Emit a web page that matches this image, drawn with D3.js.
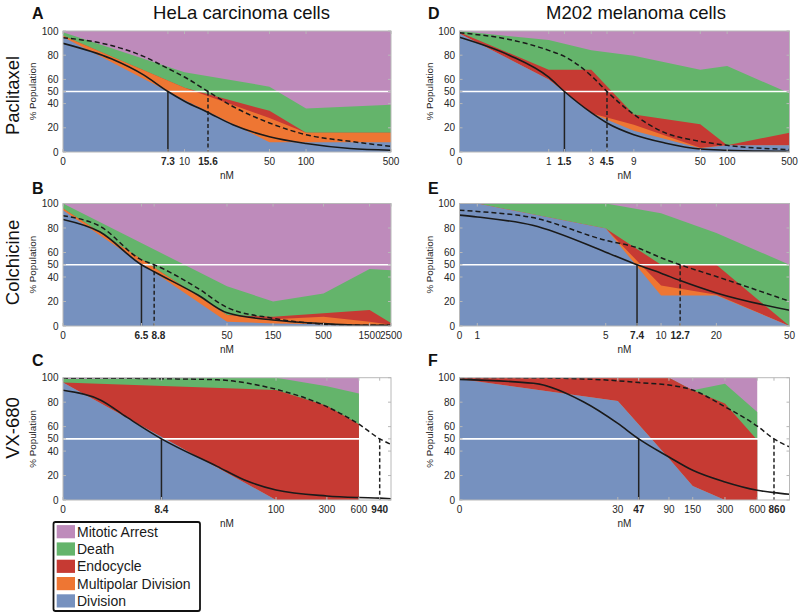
<!DOCTYPE html>
<html><head><meta charset="utf-8">
<script src="https://cdn.jsdelivr.net/npm/d3@7"></script>
<style>body{margin:0;background:#fff;} svg{display:block;font-family:"Liberation Sans",Arial,sans-serif;}</style>
</head><body><svg id="chart" width="800" height="616"></svg>
<script>
// ---------- categories ----------
const categories = ["Mitotic Arrest", "Death", "Endocycle", "Multipolar Division", "Division"];
const stackOrder = ["Division", "Multipolar Division", "Endocycle", "Death", "Mitotic Arrest"];
const categoryColors = ["#be8bbb", "#64b46b", "#c63a33", "#ee7633", "#7691bf"];
const yTicks = [0, 20, 40, 50, 60, 80, 100];

// ---------- Panel A : HeLa, Paclitaxel ----------
const A_conc = [0, 10, 50, 100, 500];
const A_division = [95, 43, 8, 8, 8];
const A_multipolar = [1, 10, 20, 8, 8];
const A_endocycle = [0, 0, 6, 0, 0];
const A_death = [3, 13, 20, 20, 23];
const A_arrest = [1, 34, 46, 64, 61];
const A_fitConc = [0, 2.5, 4.6, 7.3, 10, 15.6, 25, 50, 100, 230, 500];
const A_fitDivision = [89.8, 77, 63.7, 50, 42, 32.7, 22.5, 12.6, 7, 2.9, 1.5];
const A_fitViability = [94.5, 88, 79, 69, 62, 50, 37.6, 24, 14.3, 8.8, 4.7];
const A_ticks = [0, 7.3, 10, 15.6, 50, 100, 500];
const A_ec50 = [7.3, 15.6];

// ---------- Panel B : HeLa, Colchicine ----------
const B_conc = [0, 50, 150, 500, 1500, 2500];
const B_division = [94.5, 3.5, 2, 1.5, 0.5, 0];
const B_multipolar = [1.5, 5.5, 3.5, 6, 3, 1];
const B_endocycle = [0, 0, 2, 3, 9.5, 1.5];
const B_death = [4, 23.5, 12.5, 16, 33.5, 43];
const B_arrest = [0, 67.5, 80, 73.5, 53.5, 54.5];
const B_fitConc = [0, 2.4, 6.5, 8.8, 25, 50, 150, 500, 1000, 2500];
const B_fitDivision = [87, 76.9, 50, 44.3, 25.3, 10.8, 4.9, 1.9, 0.8, 0.5];
const B_fitViability = [90, 81.5, 54, 50, 30.7, 15.2, 6.3, 1.5, 0.8, 0.5];
const B_ticks = [0, 6.5, 8.8, 50, 150, 500, 1500, 2500];
const B_ec50 = [6.5, 8.8];

// ---------- Panel C : HeLa, VX-680 ----------
const C_conc = [0, 100, 300, 600];
const C_division = [96, 0, 0, 0];
const C_multipolar = [0, 0, 0, 0];
const C_endocycle = [0, 90, 77, 62];
const C_death = [3, 10, 16, 25];
const C_arrest = [1, 0, 7, 13];
const C_fitConc = [0, 2.24, 4, 8.4, 28, 50, 100, 300, 600, 940, 1200];
const C_fitDivision = [89.7, 81.8, 67.5, 50, 27.5, 16.6, 8.2, 3.3, 2, 1.5, 1];
const C_fitViability = [99.6, 99.6, 99.5, 99.2, 98.3, 96, 90.5, 76.3, 62, 50, 45.5];
const C_ticks = [0, 8.4, 100, 300, 600, 940];
const C_ec50 = [8.4, 940];

// ---------- Panel D : M202, Paclitaxel ----------
const D_conc = [0, 1, 3, 9, 50, 100, 500];
const D_division = [98, 60, 32, 17.5, 3, 5.5, 5.5];
const D_multipolar = [0, 0, 0, 5, 0.5, 0, 0];
const D_endocycle = [1, 8, 36, 8.5, 19.5, 0, 10.5];
const D_death = [1, 24.5, 16, 48.5, 45, 65.5, 32.5];
const D_arrest = [0, 7.5, 16, 20.5, 32, 29, 51.5];
const D_fitConc = [0, 0.36, 1, 1.5, 3, 4.5, 9, 20, 50, 100, 500];
const D_fitDivision = [94.8, 80, 61.8, 50, 32.5, 24, 14.3, 7.5, 2.5, 1.5, 0.5];
const D_fitViability = [98.5, 93, 84, 79, 63, 50, 31, 16, 8.8, 5.5, 2];
const D_ticks = [0, 1, 1.5, 3, 4.5, 9, 50, 100, 500];
const D_ec50 = [1.5, 4.5];

// ---------- Panel E : M202, Colchicine ----------
const E_conc = [0, 1, 5, 10, 20, 50];
const E_division = [100, 100, 79.5, 25, 25, 0];
const E_multipolar = [0, 0, 0, 8, 0.5, 0];
const E_endocycle = [0, 0, 0, 17, 24.5, 0];
const E_death = [0, 0, 20.5, 42, 26, 50];
const E_arrest = [0, 0, 0, 8, 24, 50];
const E_fitConc = [0, 1, 2, 5, 7.4, 10, 12.7, 20, 50];
const E_fitDivision = [90.5, 89, 82.2, 60.3, 50, 43.1, 37.1, 27, 12.8];
const E_fitViability = [94.5, 93.5, 88.5, 69.9, 63.9, 55.7, 50, 40.4, 20.2];
const E_ticks = [0, 1, 5, 7.4, 10, 12.7, 20, 50];
const E_ec50 = [7.4, 12.7];

// ---------- Panel F : M202, VX-680 ----------
const F_conc = [0, 30, 90, 150, 300, 600];
const F_division = [99, 81, 34, 11.5, 0, 0];
const F_multipolar = [0, 0, 0, 0, 0, 0];
const F_endocycle = [1, 19, 66, 78.2, 79, 49];
const F_death = [0, 0, 0, 0, 16, 23];
const F_arrest = [0, 0, 0, 10.3, 5, 28];
const F_fitConc = [0, 4.9, 14.3, 30, 47, 90, 150, 300, 600, 860, 1200];
const F_fitDivision = [98.6, 95.4, 80.3, 62.6, 50, 35.2, 24.3, 14.8, 8, 6, 4.7];
const F_fitViability = [100, 99.8, 99, 97.5, 96, 94, 89.9, 76.2, 60.4, 50, 43.4];
const F_ticks = [0, 30, 47, 90, 150, 300, 600, 860];
const F_ec50 = [47, 860];

// ---------- panel assembly ----------
const panels = [
  {id:"A", col:0, row:0, zero:1, max:500, conc:A_conc, vals:[A_division,A_multipolar,A_endocycle,A_death,A_arrest], fc:A_fitConc, fd:A_fitDivision, fv:A_fitViability, ticks:A_ticks, ec50:A_ec50},
  {id:"B", col:0, row:1, zero:1, max:2500, conc:B_conc, vals:[B_division,B_multipolar,B_endocycle,B_death,B_arrest], fc:B_fitConc, fd:B_fitDivision, fv:B_fitViability, ticks:B_ticks, ec50:B_ec50},
  {id:"C", col:0, row:2, zero:1, max:1200, conc:C_conc, vals:[C_division,C_multipolar,C_endocycle,C_death,C_arrest], fc:C_fitConc, fd:C_fitDivision, fv:C_fitViability, ticks:C_ticks, ec50:C_ec50},
  {id:"D", col:1, row:0, zero:0.1, max:500, conc:D_conc, vals:[D_division,D_multipolar,D_endocycle,D_death,D_arrest], fc:D_fitConc, fd:D_fitDivision, fv:D_fitViability, ticks:D_ticks, ec50:D_ec50},
  {id:"E", col:1, row:1, zero:0.8, max:50, conc:E_conc, vals:[E_division,E_multipolar,E_endocycle,E_death,E_arrest], fc:E_fitConc, fd:E_fitDivision, fv:E_fitViability, ticks:E_ticks, ec50:E_ec50},
  {id:"F", col:1, row:2, zero:1, max:1200, conc:F_conc, vals:[F_division,F_multipolar,F_endocycle,F_death,F_arrest], fc:F_fitConc, fd:F_fitDivision, fv:F_fitViability, ticks:F_ticks, ec50:F_ec50}
];
const titles = ["HeLa carcinoma cells", "M202 melanoma cells"];
const drugs = ["Paclitaxel", "Colchicine", "VX-680"];

// ---------- layout ----------
const cols = [{x0:63, x1:391, title:241.5, letter:32, ylab:35.5},
              {x0:459.5, x1:789.5, title:636, letter:428, ylab:432.5}];
const rows = [{y0:31, y1:152, letter:18.5, drug:95.5},
              {y0:203.5, y1:326, letter:194, drug:262.5},
              {y0:377.7, y1:500, letter:366, drug:428}];
const colorOf = k => categoryColors[categories.indexOf(k)];
const svg = d3.select("#chart");
const textCol = "#262626";
const tickFont = 10;

panels.forEach((p, pi) => {
  const c = cols[p.col], r = rows[p.row];
  const x = d3.scaleLog().domain([p.zero, p.max]).range([c.x0, c.x1]);
  const y = d3.scaleLinear().domain([0, 100]).range([r.y1, r.y0]);
  const xc = v => x(Math.max(v, p.zero));
  const g = svg.append("g");
  const clipId = "clip" + p.id;
  g.append("clipPath").attr("id", clipId).append("rect")
    .attr("x", c.x0).attr("y", r.y0).attr("width", c.x1 - c.x0).attr("height", r.y1 - r.y0);
  const plot = g.append("g").attr("clip-path", `url(#${clipId})`);

  // table for stacking
  const table = p.conc.map((cc, i) => {
    const o = {conc: cc};
    stackOrder.forEach((k, j) => o[k] = p.vals[j][i]);
    return o;
  });
  const layers = d3.stack().keys(stackOrder)(table);
  const area = d3.area().x(d => xc(d.data.conc)).y0(y(0)).y1(d => y(d[1]));
  plot.selectAll("path.layer").data(layers.slice().reverse()).join("path")
    .attr("class", "layer").attr("fill", d => colorOf(d.key)).attr("d", area);

  // 50% white line
  plot.append("line").attr("x1", c.x0).attr("x2", c.x1).attr("y1", y(50)).attr("y2", y(50))
    .attr("stroke", "#fff").attr("stroke-width", 1.6);

  // EC50 drop lines
  p.ec50.forEach((e, i) => {
    plot.append("line").attr("x1", xc(e)).attr("x2", xc(e)).attr("y1", y(50)).attr("y2", y(0))
      .attr("stroke", "#222").attr("stroke-width", 1.5)
      .attr("stroke-dasharray", i === 1 ? "4,2.5" : null);
  });

  // fitted curves
  const line = d3.line().x(d => xc(d[0])).y(d => y(d[1])).curve(d3.curveMonotoneX);
  plot.append("path").attr("d", line(p.fc.map((cc, i) => [cc, p.fv[i]])))
    .attr("fill", "none").attr("stroke", "#1a1a1a").attr("stroke-width", 1.5).attr("stroke-dasharray", "5,3");
  plot.append("path").attr("d", line(p.fc.map((cc, i) => [cc, p.fd[i]])))
    .attr("fill", "none").attr("stroke", "#1a1a1a").attr("stroke-width", 1.6);

  // frame + inward ticks
  const frame = g.append("g").attr("stroke", "#b8b8b8").attr("stroke-width", 1);
  frame.append("rect").attr("x", c.x0).attr("y", r.y0).attr("width", c.x1 - c.x0).attr("height", r.y1 - r.y0).attr("fill", "none");
  yTicks.forEach(t => {
    frame.append("line").attr("x1", c.x0).attr("x2", c.x0 + 3).attr("y1", y(t)).attr("y2", y(t));
    frame.append("line").attr("x1", c.x1).attr("x2", c.x1 - 3).attr("y1", y(t)).attr("y2", y(t));
  });
  p.ticks.forEach(t => {
    frame.append("line").attr("x1", xc(t)).attr("x2", xc(t)).attr("y1", r.y1).attr("y2", r.y1 - 3);
    frame.append("line").attr("x1", xc(t)).attr("x2", xc(t)).attr("y1", r.y0).attr("y2", r.y0 + 3);
  });

  // y tick labels
  g.selectAll("text.yt").data(yTicks).join("text").attr("class", "yt")
    .attr("x", c.x0 - 4.5).attr("y", t => y(t) + 3.5).attr("text-anchor", "end")
    .attr("font-size", tickFont).attr("fill", textCol).text(t => t);

  // x tick labels (bold EC50 labels nudged right if they would collide)
  let prevRight = -Infinity;
  p.ticks.forEach(t => {
    const bold = p.ec50.includes(t);
    const w = String(t).split("").reduce((s, ch) => s + (ch === "." ? 0.278 : 0.556), 0) * tickFont;
    let cx = xc(t);
    if (bold && cx - w / 2 < prevRight + 3) cx = prevRight + 3 + w / 2;
    prevRight = cx + w / 2;
    g.append("text").attr("x", cx).attr("y", r.y1 + 12.5).attr("text-anchor", "middle")
      .attr("font-size", tickFont).attr("fill", textCol)
      .attr("font-weight", bold ? "bold" : "normal").text(t);
  });
  g.append("text").attr("x", (c.x0 + c.x1) / 2).attr("y", r.y1 + 27).attr("text-anchor", "middle")
    .attr("font-size", tickFont).attr("fill", textCol).text("nM");
  // y axis title
  g.append("text").attr("transform", `translate(${c.ylab},${(r.y0 + r.y1) / 2}) rotate(-90)`)
    .attr("text-anchor", "middle").attr("font-size", 9.8).attr("fill", textCol).text("% Population");
  // panel letter
  g.append("text").attr("x", c.letter).attr("y", r.letter).attr("font-size", 16).attr("font-weight", "bold")
    .attr("fill", "#111").text(p.id);
});

// column titles
titles.forEach((t, i) => svg.append("text").attr("x", cols[i].title).attr("y", 18.5)
  .attr("text-anchor", "middle").attr("font-size", 18.5).attr("fill", "#111").text(t));
// row (drug) labels
drugs.forEach((d, i) => svg.append("text").attr("transform", `translate(18.5,${rows[i].drug}) rotate(-90)`)
  .attr("text-anchor", "middle").attr("font-size", 18.5).attr("fill", "#111").text(d));

// legend
const lg = svg.append("g");
lg.append("rect").attr("x", 53.5).attr("y", 522).attr("width", 146.5).attr("height", 89)
  .attr("fill", "#fff").attr("stroke", "#111").attr("stroke-width", 1.8).attr("rx", 2);
categories.forEach((k, i) => {
  const cy = 531.7 + i * 17.3;
  lg.append("rect").attr("x", 56.7).attr("y", cy - 6.6).attr("width", 18.3).attr("height", 13.2).attr("fill", categoryColors[i]);
  lg.append("text").attr("x", 77).attr("y", cy + 5).attr("font-size", 14).attr("fill", "#1a1a1a").text(k);
});
</script></body></html>
